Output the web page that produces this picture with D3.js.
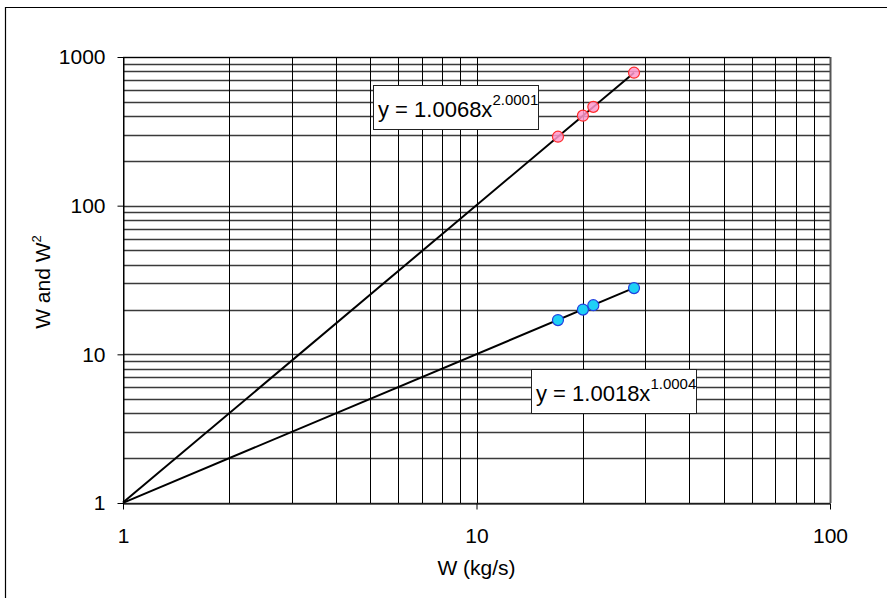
<!DOCTYPE html>
<html>
<head>
<meta charset="utf-8">
<script src="https://cdn.jsdelivr.net/npm/d3@7"></script>
<style>
  body { margin: 0; background: #fff; }
  svg { display: block; font-family: "Liberation Sans", Arial, sans-serif; }
</style>
</head>
<body>
<svg id="chart" width="887" height="598"></svg>
<script>
// flow values
let flowW = [17.0, 20.0, 21.4, 27.9]
let seriesW = [17.0, 20.0, 21.4, 27.9]
let seriesW2 = [291, 403, 462, 784]
// power trendline coefficients as printed in the labels
let fitW = { a: 1.0018, b: 1.0004, label: "y = 1.0018x", pow: "1.0004" }
let fitW2 = { a: 1.0068, b: 2.0001, label: "y = 1.0068x", pow: "2.0001" }
let xTicks = [1, 10, 100]
let yTicks = [1, 10, 100, 1000]

let svg = d3.select("#chart")
// plot box (named so they don't clash with window.top)
let pLeft = 123, pRight = 830, pTop = 57, pBottom = 503

// outer frame of the chart area (only left and top show in the picture)
svg.append("path")
    .attr("d", "M5.5,600 V7.5 H887")
    .attr("fill", "none")
    .attr("stroke", "#000")
    .attr("stroke-width", 1.2)

let x = d3.scaleLog().domain([1, 100]).range([pLeft, pRight])
let y = d3.scaleLog().domain([1, 1000]).range([pBottom, pTop])

// gridlines, every 1..9 of each decade
let grid = svg.append("g")
grid.selectAll(".hg").data(y.ticks()).enter().append("line")
    .attr("class", "hg")
    .attr("x1", pLeft).attr("x2", pRight)
    .attr("y1", d => Math.round(y(d)) + 0.5).attr("y2", d => Math.round(y(d)) + 0.5)
    .attr("stroke", "#3a3a3a")
    .attr("stroke-width", 1.4)
grid.selectAll(".vg").data(x.ticks()).enter().append("line")
    .attr("class", "vg")
    .attr("y1", pTop).attr("y2", pBottom)
    .attr("x1", d => Math.round(x(d)) + 0.5).attr("x2", d => Math.round(x(d)) + 0.5)
    .attr("stroke", "#000")
    .attr("stroke-width", 1)

// plot border
svg.append("line").attr("x1", pLeft).attr("x2", pRight + 1).attr("y1", pTop + 0.5).attr("y2", pTop + 0.5).attr("stroke", "#000")
svg.append("line").attr("x1", pRight + 0.5).attr("x2", pRight + 0.5).attr("y1", pTop).attr("y2", pBottom).attr("stroke", "#555").attr("stroke-width", 2)

// axes
let yAxis = d3.axisLeft(y).tickValues(yTicks).tickFormat(d3.format("d")).tickSize(6).tickSizeOuter(0).tickPadding(12)
let xAxis = d3.axisBottom(x).tickValues(xTicks).tickFormat(d3.format("d")).tickSize(6).tickSizeOuter(0).tickPadding(19)

let gy = svg.append("g").attr("transform", `translate(${pLeft + 0.5},0)`).call(yAxis)
let gx = svg.append("g").attr("transform", `translate(0,${pBottom + 0.5})`).call(xAxis)
for (let g of [gx, gy]) {
    g.select(".domain").attr("stroke", "#000")
    g.selectAll(".tick line").attr("stroke", "#000")
    g.selectAll("text").attr("font-size", 21).attr("fill", "#000").attr("font-family", "Liberation Sans, Arial, sans-serif")
}

// axis titles
svg.append("text")
    .attr("x", (pLeft + pRight) / 2).attr("y", 575)
    .attr("text-anchor", "middle").attr("font-size", 21)
    .text("W (kg/s)")
let yt = svg.append("text")
    .attr("transform", "translate(50,282) rotate(-90)")
    .attr("text-anchor", "middle").attr("font-size", 21)
yt.append("tspan").text("W and W")
yt.append("tspan").attr("font-size", 13).attr("dy", -9).text("2")

// trendlines y = a x^b from x = 1 to the last point
let line = d3.line().x(d => x(d[0])).y(d => y(d[1]))
for (let f of [fitW, fitW2]) {
    let xs = [1, d3.max(flowW)]
    svg.append("path")
        .datum(xs.map(v => [v, f.a * Math.pow(v, f.b)]))
        .attr("d", line)
        .attr("fill", "none")
        .attr("stroke", "#000")
        .attr("stroke-width", 2)
}

// markers
svg.selectAll(".ptW2").data(flowW).enter().append("circle")
    .attr("cx", (d, i) => x(d)).attr("cy", (d, i) => y(seriesW2[i]))
    .attr("r", 5.5)
    .attr("fill", "#ff99cc").attr("fill-opacity", 0.85)
    .attr("stroke", "#ff2a2a").attr("stroke-width", 1.2)
svg.selectAll(".ptW").data(flowW).enter().append("circle")
    .attr("cx", (d, i) => x(d)).attr("cy", (d, i) => y(seriesW[i]))
    .attr("r", 5.5)
    .attr("fill", "#1fd0f5")
    .attr("stroke", "#2040e0").attr("stroke-width", 1.2)

// equation labels
let labels = [
    { f: fitW2, x: 373, y: 85 },
    { f: fitW, x: 531, y: 369 }
]
for (let l of labels) {
    let g = svg.append("g").attr("transform", `translate(${l.x},${l.y})`)
    g.append("rect")
        .attr("x", 0.5).attr("y", 0.5).attr("width", 165).attr("height", 44)
        .attr("fill", "#fff").attr("stroke", "#222").attr("stroke-width", 1)
    let t = g.append("text").attr("x", 5).attr("y", 32).attr("font-size", 22)
    t.append("tspan").text(l.f.label)
    t.append("tspan").attr("font-size", 15).attr("dy", -12).text(l.f.pow)
}
</script>
</body>
</html>
